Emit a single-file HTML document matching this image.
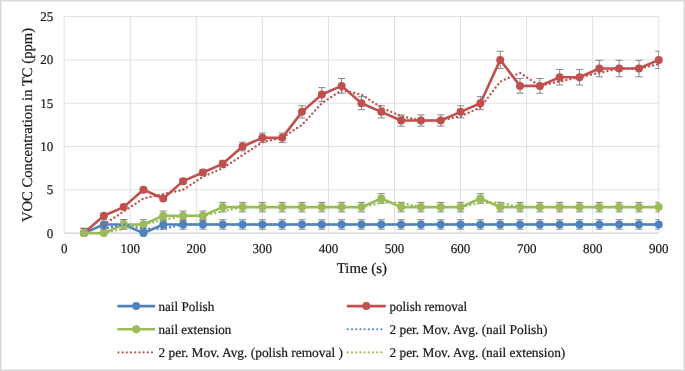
<!DOCTYPE html>
<html><head><meta charset="utf-8"><style>
html,body{margin:0;padding:0;background:#fff;}
body{width:685px;height:371px;overflow:hidden;position:relative;}
.frame{position:absolute;left:0;top:0;width:683px;height:369px;border:1px solid #D6D6D6;}
.inner{position:absolute;left:1px;top:1px;width:681px;height:367px;border:1px solid #EFEFEF;}
svg{position:absolute;left:0;top:0;}
text{text-rendering:geometricPrecision;font-family:"Liberation Serif",serif;fill:#1a1a1a;stroke:#1a1a1a;stroke-width:0.22px;}
svg{filter:blur(0.42px);}
.ax text{font-size:13.3px;}
.lg text{font-size:13.4px;}
</style></head><body>
<div class="frame"></div><div class="inner"></div>
<svg width="685" height="371" viewBox="0 0 685 371">
<defs><clipPath id="ec"><rect x="0" y="0" width="659.28" height="371"/></clipPath><clipPath id="pc"><rect x="56.15" y="6.60" width="610.63" height="230.50"/></clipPath></defs>
<g stroke="#E0E0E0" stroke-width="1" fill="none"><line x1="64.15" y1="189.80" x2="658.78" y2="189.80"/><line x1="64.15" y1="146.50" x2="658.78" y2="146.50"/><line x1="64.15" y1="103.20" x2="658.78" y2="103.20"/><line x1="64.15" y1="59.90" x2="658.78" y2="59.90"/><line x1="64.15" y1="16.60" x2="658.78" y2="16.60"/><line x1="64.15" y1="16.60" x2="64.15" y2="233.10"/><line x1="130.22" y1="16.60" x2="130.22" y2="233.10"/><line x1="196.29" y1="16.60" x2="196.29" y2="233.10"/><line x1="262.36" y1="16.60" x2="262.36" y2="233.10"/><line x1="328.43" y1="16.60" x2="328.43" y2="233.10"/><line x1="394.50" y1="16.60" x2="394.50" y2="233.10"/><line x1="460.57" y1="16.60" x2="460.57" y2="233.10"/><line x1="526.64" y1="16.60" x2="526.64" y2="233.10"/><line x1="592.71" y1="16.60" x2="592.71" y2="233.10"/><line x1="658.78" y1="16.60" x2="658.78" y2="233.10"/></g>
<line x1="64.15" y1="233.10" x2="658.78" y2="233.10" stroke="#D2D2D2" stroke-width="1.1"/>
<g clip-path="url(#pc)">
<polyline points="83.97,233.10 103.79,224.44 123.61,224.44 143.43,233.10 163.25,224.44 183.08,224.44 202.90,224.44 222.72,224.44 242.54,224.44 262.36,224.44 282.18,224.44 302.00,224.44 321.82,224.44 341.64,224.44 361.47,224.44 381.29,224.44 401.11,224.44 420.93,224.44 440.75,224.44 460.57,224.44 480.39,224.44 500.21,224.44 520.03,224.44 539.85,224.44 559.67,224.44 579.50,224.44 599.32,224.44 619.14,224.44 638.96,224.44 658.78,224.44" fill="none" stroke="#4F81BD" stroke-width="2.6" stroke-linejoin="round"/><path d="M83.97 228.34V237.86M80.37 228.34H87.57M80.37 237.86H87.57M103.79 219.68V229.20M100.19 219.68H107.39M100.19 229.20H107.39M123.61 219.68V229.20M120.01 219.68H127.21M120.01 229.20H127.21M143.43 228.34V237.86M139.83 228.34H147.03M139.83 237.86H147.03M163.25 219.68V229.20M159.66 219.68H166.85M159.66 229.20H166.85M183.08 219.68V229.20M179.48 219.68H186.68M179.48 229.20H186.68M202.90 219.68V229.20M199.30 219.68H206.50M199.30 229.20H206.50M222.72 219.68V229.20M219.12 219.68H226.32M219.12 229.20H226.32M242.54 219.68V229.20M238.94 219.68H246.14M238.94 229.20H246.14M262.36 219.68V229.20M258.76 219.68H265.96M258.76 229.20H265.96M282.18 219.68V229.20M278.58 219.68H285.78M278.58 229.20H285.78M302.00 219.68V229.20M298.40 219.68H305.60M298.40 229.20H305.60M321.82 219.68V229.20M318.22 219.68H325.42M318.22 229.20H325.42M341.64 219.68V229.20M338.04 219.68H345.24M338.04 229.20H345.24M361.47 219.68V229.20M357.87 219.68H365.07M357.87 229.20H365.07M381.29 219.68V229.20M377.69 219.68H384.89M377.69 229.20H384.89M401.11 219.68V229.20M397.51 219.68H404.71M397.51 229.20H404.71M420.93 219.68V229.20M417.33 219.68H424.53M417.33 229.20H424.53M440.75 219.68V229.20M437.15 219.68H444.35M437.15 229.20H444.35M460.57 219.68V229.20M456.97 219.68H464.17M456.97 229.20H464.17M480.39 219.68V229.20M476.79 219.68H483.99M476.79 229.20H483.99M500.21 219.68V229.20M496.61 219.68H503.81M496.61 229.20H503.81M520.03 219.68V229.20M516.43 219.68H523.63M516.43 229.20H523.63M539.85 219.68V229.20M536.25 219.68H543.45M536.25 229.20H543.45M559.67 219.68V229.20M556.07 219.68H563.27M556.07 229.20H563.27M579.50 219.68V229.20M575.90 219.68H583.10M575.90 229.20H583.10M599.32 219.68V229.20M595.72 219.68H602.92M595.72 229.20H602.92M619.14 219.68V229.20M615.54 219.68H622.74M615.54 229.20H622.74M638.96 219.68V229.20M635.36 219.68H642.56M635.36 229.20H642.56M658.78 219.68V229.20M655.18 219.68H662.38M655.18 229.20H662.38" stroke="#7a7a7a" stroke-width="0.9" fill="none" clip-path="url(#ec)"/><circle cx="83.97" cy="233.10" r="4.0" fill="#4F81BD"/><circle cx="103.79" cy="224.44" r="4.0" fill="#4F81BD"/><circle cx="123.61" cy="224.44" r="4.0" fill="#4F81BD"/><circle cx="143.43" cy="233.10" r="4.0" fill="#4F81BD"/><circle cx="163.25" cy="224.44" r="4.0" fill="#4F81BD"/><circle cx="183.08" cy="224.44" r="4.0" fill="#4F81BD"/><circle cx="202.90" cy="224.44" r="4.0" fill="#4F81BD"/><circle cx="222.72" cy="224.44" r="4.0" fill="#4F81BD"/><circle cx="242.54" cy="224.44" r="4.0" fill="#4F81BD"/><circle cx="262.36" cy="224.44" r="4.0" fill="#4F81BD"/><circle cx="282.18" cy="224.44" r="4.0" fill="#4F81BD"/><circle cx="302.00" cy="224.44" r="4.0" fill="#4F81BD"/><circle cx="321.82" cy="224.44" r="4.0" fill="#4F81BD"/><circle cx="341.64" cy="224.44" r="4.0" fill="#4F81BD"/><circle cx="361.47" cy="224.44" r="4.0" fill="#4F81BD"/><circle cx="381.29" cy="224.44" r="4.0" fill="#4F81BD"/><circle cx="401.11" cy="224.44" r="4.0" fill="#4F81BD"/><circle cx="420.93" cy="224.44" r="4.0" fill="#4F81BD"/><circle cx="440.75" cy="224.44" r="4.0" fill="#4F81BD"/><circle cx="460.57" cy="224.44" r="4.0" fill="#4F81BD"/><circle cx="480.39" cy="224.44" r="4.0" fill="#4F81BD"/><circle cx="500.21" cy="224.44" r="4.0" fill="#4F81BD"/><circle cx="520.03" cy="224.44" r="4.0" fill="#4F81BD"/><circle cx="539.85" cy="224.44" r="4.0" fill="#4F81BD"/><circle cx="559.67" cy="224.44" r="4.0" fill="#4F81BD"/><circle cx="579.50" cy="224.44" r="4.0" fill="#4F81BD"/><circle cx="599.32" cy="224.44" r="4.0" fill="#4F81BD"/><circle cx="619.14" cy="224.44" r="4.0" fill="#4F81BD"/><circle cx="638.96" cy="224.44" r="4.0" fill="#4F81BD"/><circle cx="658.78" cy="224.44" r="4.0" fill="#4F81BD"/>
<polyline points="83.97,233.10 103.79,215.78 123.61,207.12 143.43,189.80 163.25,198.46 183.08,181.14 202.90,172.48 222.72,163.82 242.54,146.50 262.36,137.84 282.18,137.84 302.00,111.86 321.82,94.54 341.64,85.88 361.47,103.20 381.29,111.86 401.11,120.52 420.93,120.52 440.75,120.52 460.57,111.86 480.39,103.20 500.21,59.90 520.03,85.88 539.85,85.88 559.67,77.22 579.50,77.22 599.32,68.56 619.14,68.56 638.96,68.56 658.78,59.90" fill="none" stroke="#C0504D" stroke-width="2.6" stroke-linejoin="round"/><path d="M103.79 214.91V216.65M100.19 214.91H107.39M100.19 216.65H107.39M123.61 205.82V208.42M120.01 205.82H127.21M120.01 208.42H127.21M143.43 187.64V191.97M139.83 187.64H147.03M139.83 191.97H147.03M163.25 196.73V200.19M159.66 196.73H166.85M159.66 200.19H166.85M183.08 178.54V183.74M179.48 178.54H186.68M179.48 183.74H186.68M202.90 169.45V175.51M199.30 169.45H206.50M199.30 175.51H206.50M222.72 160.36V167.28M219.12 160.36H226.32M219.12 167.28H226.32M242.54 142.17V150.83M238.94 142.17H246.14M238.94 150.83H246.14M262.36 133.08V142.60M258.76 133.08H265.96M258.76 142.60H265.96M282.18 133.08V142.60M278.58 133.08H285.78M278.58 142.60H285.78M302.00 105.80V117.92M298.40 105.80H305.60M298.40 117.92H305.60M321.82 87.61V101.47M318.22 87.61H325.42M318.22 101.47H325.42M341.64 78.52V93.24M338.04 78.52H345.24M338.04 93.24H345.24M361.47 96.70V109.69M357.87 96.70H365.07M357.87 109.69H365.07M381.29 105.80V117.92M377.69 105.80H384.89M377.69 117.92H384.89M401.11 114.89V126.15M397.51 114.89H404.71M397.51 126.15H404.71M420.93 114.89V126.15M417.33 114.89H424.53M417.33 126.15H424.53M440.75 114.89V126.15M437.15 114.89H444.35M437.15 126.15H444.35M460.57 105.80V117.92M456.97 105.80H464.17M456.97 117.92H464.17M480.39 96.70V109.69M476.79 96.70H483.99M476.79 109.69H483.99M500.21 51.24V68.56M496.61 51.24H503.81M496.61 68.56H503.81M520.03 78.52V93.24M516.43 78.52H523.63M516.43 93.24H523.63M539.85 78.52V93.24M536.25 78.52H543.45M536.25 93.24H543.45M559.67 69.43V85.01M556.07 69.43H563.27M556.07 85.01H563.27M579.50 69.43V85.01M575.90 69.43H583.10M575.90 85.01H583.10M599.32 60.33V76.79M595.72 60.33H602.92M595.72 76.79H602.92M619.14 60.33V76.79M615.54 60.33H622.74M615.54 76.79H622.74M638.96 60.33V76.79M635.36 60.33H642.56M635.36 76.79H642.56M658.78 51.24V68.56M655.18 51.24H662.38M655.18 68.56H662.38" stroke="#7a7a7a" stroke-width="0.9" fill="none" clip-path="url(#ec)"/><circle cx="83.97" cy="233.10" r="4.0" fill="#C0504D"/><circle cx="103.79" cy="215.78" r="4.0" fill="#C0504D"/><circle cx="123.61" cy="207.12" r="4.0" fill="#C0504D"/><circle cx="143.43" cy="189.80" r="4.0" fill="#C0504D"/><circle cx="163.25" cy="198.46" r="4.0" fill="#C0504D"/><circle cx="183.08" cy="181.14" r="4.0" fill="#C0504D"/><circle cx="202.90" cy="172.48" r="4.0" fill="#C0504D"/><circle cx="222.72" cy="163.82" r="4.0" fill="#C0504D"/><circle cx="242.54" cy="146.50" r="4.0" fill="#C0504D"/><circle cx="262.36" cy="137.84" r="4.0" fill="#C0504D"/><circle cx="282.18" cy="137.84" r="4.0" fill="#C0504D"/><circle cx="302.00" cy="111.86" r="4.0" fill="#C0504D"/><circle cx="321.82" cy="94.54" r="4.0" fill="#C0504D"/><circle cx="341.64" cy="85.88" r="4.0" fill="#C0504D"/><circle cx="361.47" cy="103.20" r="4.0" fill="#C0504D"/><circle cx="381.29" cy="111.86" r="4.0" fill="#C0504D"/><circle cx="401.11" cy="120.52" r="4.0" fill="#C0504D"/><circle cx="420.93" cy="120.52" r="4.0" fill="#C0504D"/><circle cx="440.75" cy="120.52" r="4.0" fill="#C0504D"/><circle cx="460.57" cy="111.86" r="4.0" fill="#C0504D"/><circle cx="480.39" cy="103.20" r="4.0" fill="#C0504D"/><circle cx="500.21" cy="59.90" r="4.0" fill="#C0504D"/><circle cx="520.03" cy="85.88" r="4.0" fill="#C0504D"/><circle cx="539.85" cy="85.88" r="4.0" fill="#C0504D"/><circle cx="559.67" cy="77.22" r="4.0" fill="#C0504D"/><circle cx="579.50" cy="77.22" r="4.0" fill="#C0504D"/><circle cx="599.32" cy="68.56" r="4.0" fill="#C0504D"/><circle cx="619.14" cy="68.56" r="4.0" fill="#C0504D"/><circle cx="638.96" cy="68.56" r="4.0" fill="#C0504D"/><circle cx="658.78" cy="59.90" r="4.0" fill="#C0504D"/>
<polyline points="83.97,233.10 103.79,233.10 123.61,224.44 143.43,224.44 163.25,215.78 183.08,215.78 202.90,215.78 222.72,207.12 242.54,207.12 262.36,207.12 282.18,207.12 302.00,207.12 321.82,207.12 341.64,207.12 361.47,207.12 381.29,198.46 401.11,207.12 420.93,207.12 440.75,207.12 460.57,207.12 480.39,198.46 500.21,207.12 520.03,207.12 539.85,207.12 559.67,207.12 579.50,207.12 599.32,207.12 619.14,207.12 638.96,207.12 658.78,207.12" fill="none" stroke="#9BBB59" stroke-width="2.6" stroke-linejoin="round"/><path d="M83.97 228.34V237.86M80.37 228.34H87.57M80.37 237.86H87.57M103.79 228.34V237.86M100.19 228.34H107.39M100.19 237.86H107.39M123.61 219.68V229.20M120.01 219.68H127.21M120.01 229.20H127.21M143.43 219.68V229.20M139.83 219.68H147.03M139.83 229.20H147.03M163.25 211.02V220.54M159.66 211.02H166.85M159.66 220.54H166.85M183.08 211.02V220.54M179.48 211.02H186.68M179.48 220.54H186.68M202.90 211.02V220.54M199.30 211.02H206.50M199.30 220.54H206.50M222.72 202.36V211.88M219.12 202.36H226.32M219.12 211.88H226.32M242.54 202.36V211.88M238.94 202.36H246.14M238.94 211.88H246.14M262.36 202.36V211.88M258.76 202.36H265.96M258.76 211.88H265.96M282.18 202.36V211.88M278.58 202.36H285.78M278.58 211.88H285.78M302.00 202.36V211.88M298.40 202.36H305.60M298.40 211.88H305.60M321.82 202.36V211.88M318.22 202.36H325.42M318.22 211.88H325.42M341.64 202.36V211.88M338.04 202.36H345.24M338.04 211.88H345.24M361.47 202.36V211.88M357.87 202.36H365.07M357.87 211.88H365.07M381.29 193.70V203.22M377.69 193.70H384.89M377.69 203.22H384.89M401.11 202.36V211.88M397.51 202.36H404.71M397.51 211.88H404.71M420.93 202.36V211.88M417.33 202.36H424.53M417.33 211.88H424.53M440.75 202.36V211.88M437.15 202.36H444.35M437.15 211.88H444.35M460.57 202.36V211.88M456.97 202.36H464.17M456.97 211.88H464.17M480.39 193.70V203.22M476.79 193.70H483.99M476.79 203.22H483.99M500.21 202.36V211.88M496.61 202.36H503.81M496.61 211.88H503.81M520.03 202.36V211.88M516.43 202.36H523.63M516.43 211.88H523.63M539.85 202.36V211.88M536.25 202.36H543.45M536.25 211.88H543.45M559.67 202.36V211.88M556.07 202.36H563.27M556.07 211.88H563.27M579.50 202.36V211.88M575.90 202.36H583.10M575.90 211.88H583.10M599.32 202.36V211.88M595.72 202.36H602.92M595.72 211.88H602.92M619.14 202.36V211.88M615.54 202.36H622.74M615.54 211.88H622.74M638.96 202.36V211.88M635.36 202.36H642.56M635.36 211.88H642.56M658.78 202.36V211.88M655.18 202.36H662.38M655.18 211.88H662.38" stroke="#7a7a7a" stroke-width="0.9" fill="none" clip-path="url(#ec)"/><circle cx="83.97" cy="233.10" r="4.0" fill="#9BBB59"/><circle cx="103.79" cy="233.10" r="4.0" fill="#9BBB59"/><circle cx="123.61" cy="224.44" r="4.0" fill="#9BBB59"/><circle cx="143.43" cy="224.44" r="4.0" fill="#9BBB59"/><circle cx="163.25" cy="215.78" r="4.0" fill="#9BBB59"/><circle cx="183.08" cy="215.78" r="4.0" fill="#9BBB59"/><circle cx="202.90" cy="215.78" r="4.0" fill="#9BBB59"/><circle cx="222.72" cy="207.12" r="4.0" fill="#9BBB59"/><circle cx="242.54" cy="207.12" r="4.0" fill="#9BBB59"/><circle cx="262.36" cy="207.12" r="4.0" fill="#9BBB59"/><circle cx="282.18" cy="207.12" r="4.0" fill="#9BBB59"/><circle cx="302.00" cy="207.12" r="4.0" fill="#9BBB59"/><circle cx="321.82" cy="207.12" r="4.0" fill="#9BBB59"/><circle cx="341.64" cy="207.12" r="4.0" fill="#9BBB59"/><circle cx="361.47" cy="207.12" r="4.0" fill="#9BBB59"/><circle cx="381.29" cy="198.46" r="4.0" fill="#9BBB59"/><circle cx="401.11" cy="207.12" r="4.0" fill="#9BBB59"/><circle cx="420.93" cy="207.12" r="4.0" fill="#9BBB59"/><circle cx="440.75" cy="207.12" r="4.0" fill="#9BBB59"/><circle cx="460.57" cy="207.12" r="4.0" fill="#9BBB59"/><circle cx="480.39" cy="198.46" r="4.0" fill="#9BBB59"/><circle cx="500.21" cy="207.12" r="4.0" fill="#9BBB59"/><circle cx="520.03" cy="207.12" r="4.0" fill="#9BBB59"/><circle cx="539.85" cy="207.12" r="4.0" fill="#9BBB59"/><circle cx="559.67" cy="207.12" r="4.0" fill="#9BBB59"/><circle cx="579.50" cy="207.12" r="4.0" fill="#9BBB59"/><circle cx="599.32" cy="207.12" r="4.0" fill="#9BBB59"/><circle cx="619.14" cy="207.12" r="4.0" fill="#9BBB59"/><circle cx="638.96" cy="207.12" r="4.0" fill="#9BBB59"/><circle cx="658.78" cy="207.12" r="4.0" fill="#9BBB59"/>
<polyline points="103.79,228.77 123.61,224.44 143.43,228.77 163.25,228.77 183.08,224.44 202.90,224.44 222.72,224.44 242.54,224.44 262.36,224.44 282.18,224.44 302.00,224.44 321.82,224.44 341.64,224.44 361.47,224.44 381.29,224.44 401.11,224.44 420.93,224.44 440.75,224.44 460.57,224.44 480.39,224.44 500.21,224.44 520.03,224.44 539.85,224.44 559.67,224.44 579.50,224.44 599.32,224.44 619.14,224.44 638.96,224.44 658.78,224.44" fill="none" stroke="#4F81BD" stroke-width="2.35" stroke-linecap="round" stroke-dasharray="0.01 4.2"/>
<polyline points="103.79,224.44 123.61,211.45 143.43,198.46 163.25,194.13 183.08,189.80 202.90,176.81 222.72,168.15 242.54,155.16 262.36,142.17 282.18,137.84 302.00,124.85 321.82,103.20 341.64,90.21 361.47,94.54 381.29,107.53 401.11,116.19 420.93,120.52 440.75,120.52 460.57,116.19 480.39,107.53 500.21,81.55 520.03,72.89 539.85,85.88 559.67,81.55 579.50,77.22 599.32,72.89 619.14,68.56 638.96,68.56 658.78,64.23" fill="none" stroke="#C0504D" stroke-width="2.35" stroke-linecap="round" stroke-dasharray="0.01 4.2"/>
<polyline points="103.79,233.10 123.61,228.77 143.43,224.44 163.25,220.11 183.08,215.78 202.90,215.78 222.72,211.45 242.54,207.12 262.36,207.12 282.18,207.12 302.00,207.12 321.82,207.12 341.64,207.12 361.47,207.12 381.29,202.79 401.11,202.79 420.93,207.12 440.75,207.12 460.57,207.12 480.39,202.79 500.21,202.79 520.03,207.12 539.85,207.12 559.67,207.12 579.50,207.12 599.32,207.12 619.14,207.12 638.96,207.12 658.78,207.12" fill="none" stroke="#9BBB59" stroke-width="2.35" stroke-linecap="round" stroke-dasharray="0.01 4.2"/>
</g>
<g class="ax"><text transform="translate(53.2,237.65) scale(0.9774,1)" text-anchor="end">0</text><text transform="translate(53.2,194.35) scale(0.9774,1)" text-anchor="end">5</text><text transform="translate(53.2,151.05) scale(0.9774,1)" text-anchor="end">10</text><text transform="translate(53.2,107.75) scale(0.9774,1)" text-anchor="end">15</text><text transform="translate(53.2,64.45) scale(0.9774,1)" text-anchor="end">20</text><text transform="translate(53.2,21.15) scale(0.9774,1)" text-anchor="end">25</text><text transform="translate(64.15,253.1) scale(0.9774,1)" text-anchor="middle">0</text><text transform="translate(130.22,253.1) scale(0.9774,1)" text-anchor="middle">100</text><text transform="translate(196.29,253.1) scale(0.9774,1)" text-anchor="middle">200</text><text transform="translate(262.36,253.1) scale(0.9774,1)" text-anchor="middle">300</text><text transform="translate(328.43,253.1) scale(0.9774,1)" text-anchor="middle">400</text><text transform="translate(394.50,253.1) scale(0.9774,1)" text-anchor="middle">500</text><text transform="translate(460.57,253.1) scale(0.9774,1)" text-anchor="middle">600</text><text transform="translate(526.64,253.1) scale(0.9774,1)" text-anchor="middle">700</text><text transform="translate(592.71,253.1) scale(0.9774,1)" text-anchor="middle">800</text><text transform="translate(658.78,253.1) scale(0.9774,1)" text-anchor="middle">900</text></g>
<text x="361.86" y="273.2" text-anchor="middle" style="font-size:14.85px">Time (s)</text>
<text transform="translate(32.4,125) rotate(-90)" text-anchor="middle" style="font-size:14.65px">VOC Concentration in TC (ppm)</text>
<g class="lg"><line x1="117.4" y1="306.1" x2="155.0" y2="306.1" stroke="#4F81BD" stroke-width="2.6"/><circle cx="136.2" cy="306.1" r="4.0" fill="#4F81BD"/><text x="158.5" y="310.80" textLength="55.7" lengthAdjust="spacingAndGlyphs">nail Polish</text><line x1="346.8" y1="306.1" x2="385.8" y2="306.1" stroke="#C0504D" stroke-width="2.6"/><circle cx="366.3" cy="306.1" r="4.0" fill="#C0504D"/><text x="389.4" y="310.80" textLength="77.7" lengthAdjust="spacingAndGlyphs">polish removal</text><line x1="117.4" y1="329.3" x2="155.0" y2="329.3" stroke="#9BBB59" stroke-width="2.6"/><circle cx="136.2" cy="329.3" r="4.0" fill="#9BBB59"/><text x="158.5" y="334.00" textLength="72.8" lengthAdjust="spacingAndGlyphs">nail extension</text><line x1="347.80" y1="329.3" x2="381.50" y2="329.3" stroke="#4F81BD" stroke-width="2.1" stroke-linecap="round" stroke-dasharray="0.01 4.19"/><text x="389.4" y="334.00">2 per. Mov. Avg. (nail Polish)</text><line x1="118.40" y1="352.4" x2="152.10" y2="352.4" stroke="#C0504D" stroke-width="2.1" stroke-linecap="round" stroke-dasharray="0.01 4.19"/><text x="158.5" y="357.10">2 per. Mov. Avg. (polish removal )</text><line x1="347.80" y1="352.4" x2="381.50" y2="352.4" stroke="#9BBB59" stroke-width="2.1" stroke-linecap="round" stroke-dasharray="0.01 4.19"/><text x="389.4" y="357.10">2 per. Mov. Avg. (nail extension)</text></g>
</svg>
</body></html>
